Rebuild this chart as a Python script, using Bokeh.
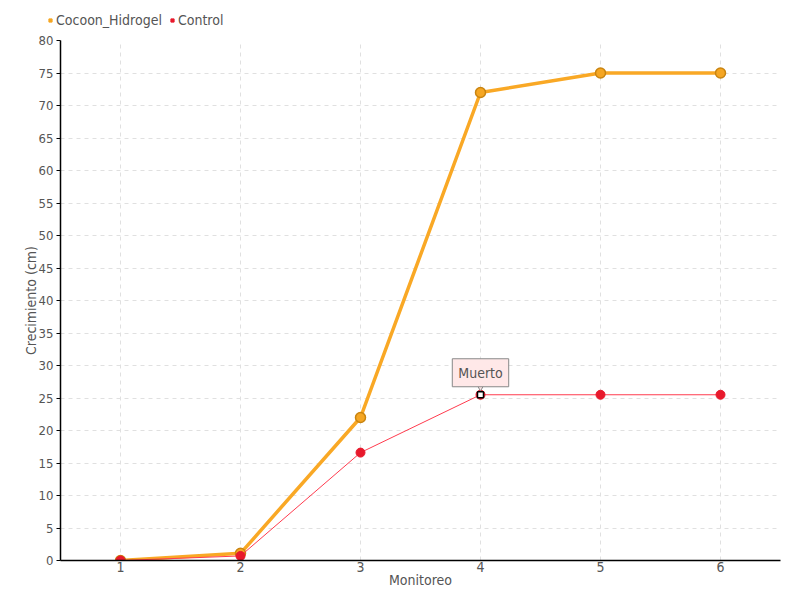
from bokeh.plotting import figure
from bokeh.layouts import column
from bokeh.models import ColumnDataSource, Legend, LegendItem, Label, FixedTicker, Range1d
from bokeh.transform import dodge
from bokeh.embed import file_html
from bokeh.resources import INLINE

monitoreo = [1, 2, 3, 4, 5, 6]
cocoon_hidrogel = [0, 1.1, 22, 72, 75, 75]
control = [0, 0.7, 16.6, 25.5, 25.5, 25.5]
y_ticks = list(range(0, 85, 5))
series_names = ["Cocoon_Hidrogel", "Control"]

FONT = "DejaVu Sans Condensed"
TXT = "#555555"
C_ORANGE = "#F5A623"
C_RED = "#E8192C"

# ---- legend strip ----
lf = figure(width=792, height=32, output_backend="svg", toolbar_location=None,
            x_range=Range1d(0, 1), y_range=Range1d(0, 1),
            min_border_left=0, min_border_right=0, min_border_top=0, min_border_bottom=0)
lf.frame_align = False
lf.axis.visible = False
lf.grid.visible = False
lf.outline_line_color = None
offscreen = ColumnDataSource(dict(x=[-10], y=[-10]))
gh = lf.scatter("x", "y", source=offscreen, marker="square", size=7, fill_color=C_ORANGE, line_color=C_ORANGE)
gc = lf.scatter("x", "y", source=offscreen, marker="square", size=7, fill_color=C_RED, line_color=C_RED)
legend = Legend(items=[LegendItem(label=series_names[0], renderers=[gh]),
                       LegendItem(label=series_names[1], renderers=[gc])],
                orientation="horizontal", location=(46, 4),
                label_text_font=FONT, label_text_font_size="14px", label_text_color=TXT,
                glyph_width=8, glyph_height=8, label_standoff=2, spacing=6,
                padding=0, margin=0, border_line_color=None, background_fill_alpha=0,
                label_height=14)
lf.add_layout(legend)

# ---- main plot ----
p = figure(width=792, height=560, output_backend="svg", toolbar_location=None,
           x_range=Range1d(0.5, 6.5), y_range=Range1d(0, 80),
           min_border_left=60, min_border_right=12, min_border_top=8, min_border_bottom=32)
p.frame_align = False
p.outline_line_color = None
p.background_fill_color = "white"

src_h = ColumnDataSource(dict(x=monitoreo, y=cocoon_hidrogel))
src_c = ColumnDataSource(dict(x=monitoreo, y=control))

p.line("x", "y", source=src_h, line_color="#F9A825", line_width=3.5)
p.scatter("x", "y", source=src_h, size=10, fill_color=C_ORANGE, line_color="#C98410", line_width=1.5)
p.line("x", "y", source=src_c, line_color="#FF3B4E", line_width=1)
p.scatter("x", "y", source=src_c, size=9, fill_color=C_RED, line_color=C_RED)

# highlighted point
hi = ColumnDataSource(dict(x=[monitoreo[3]], y=[control[3]]))
p.scatter("x", "y", source=hi, marker="square", size=6, fill_color="white", line_color="black", line_width=1.5)

lab = Label(x=monitoreo[3], y=control[3], text="Muerto", y_offset=8, text_align="center",
            text_baseline="bottom", text_font=FONT, text_font_size="14px", text_color=TXT,
            background_fill_color="#FFE8E8", border_line_color="#888888", border_line_width=1,
            padding=6)
p.add_layout(lab)
p.scatter(x="x", y=dodge("y", 1.2, range=p.y_range), source=hi, marker="inverted_triangle", size=7,
          fill_color="#FFE8E8", line_color="#888888")

# axes
p.xaxis.ticker = FixedTicker(ticks=monitoreo)
p.yaxis.ticker = FixedTicker(ticks=y_ticks)
p.xaxis.axis_label = "Monitoreo"
p.yaxis.axis_label = "Crecimiento (cm)"
for ax in (p.xaxis[0], p.yaxis[0]):
    ax.axis_line_color = "black"
    ax.axis_line_width = 1.5
    ax.major_label_text_font = FONT
    ax.major_label_text_font_size = "14px"
    ax.major_label_text_color = TXT
    ax.axis_label_text_font = FONT
    ax.axis_label_text_font_size = "14px"
    ax.axis_label_text_font_style = "normal"
    ax.axis_label_text_color = TXT
    ax.minor_tick_line_color = None
p.yaxis.major_label_text_font_size = "13px"
p.xaxis.major_tick_line_color = None
p.xaxis.major_tick_out = 0
p.xaxis.major_tick_in = 0
p.xaxis.axis_label_standoff = -3
p.xaxis.major_label_standoff = 1
p.yaxis.major_tick_out = 4
p.yaxis.major_tick_in = 0
p.yaxis.major_tick_line_color = "black"
p.yaxis.axis_label_standoff = -3
p.yaxis.major_label_standoff = 3

p.xgrid.grid_line_color = "#E0E0E0"
p.ygrid.grid_line_color = "#E0E0E0"
p.xgrid.grid_line_dash = "4 4"
p.ygrid.grid_line_dash = "4 4"

layout = column(lf, p, spacing=0)
open("out.html", "w").write(file_html(layout, INLINE))
